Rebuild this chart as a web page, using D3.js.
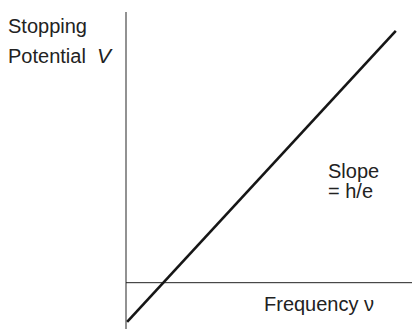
<!DOCTYPE html>
<html>
<head>
<meta charset="utf-8">
<script src="https://cdn.jsdelivr.net/npm/d3@7"></script>
<style>
  html, body { margin: 0; padding: 0; background: #fff; }
  svg { display: block; font-family: "Liberation Sans", Arial, sans-serif; }
</style>
</head>
<body>
<svg id="chart" width="412" height="329"></svg>
<script>
// Stopping potential vs frequency (photoelectric effect)
const freq    = [0.04, 9.5];     // frequency, arbitrary units
const voltage = [-1.35, 8.7];    // stopping potential, arbitrary units
const xDomain = [0, 10];
const yDomain = [-1.6, 9.35];

const W = 412, H = 329;
const svg = d3.select('#chart');

const x = d3.scaleLinear().domain(xDomain).range([126, 410]);
const y = d3.scaleLinear().domain(yDomain).range([329, 12]);

// vertical axis (grey)
svg.append('line')
  .attr('x1', x(0)).attr('x2', x(0))
  .attr('y1', y(yDomain[1])).attr('y2', y(yDomain[0]))
  .attr('stroke', '#6e6e6e')
  .attr('stroke-width', 1.5);

// horizontal axis at V = 0
svg.append('line')
  .attr('x1', x(0)).attr('x2', W)
  .attr('y1', y(0)).attr('y2', y(0))
  .attr('stroke', '#222')
  .attr('stroke-width', 1);

// the line V = (h/e) nu - phi/e
const pts = freq.map((f, i) => [f, voltage[i]]);
svg.append('path')
  .datum(pts)
  .attr('fill', 'none')
  .attr('stroke', '#161616')
  .attr('stroke-width', 2.6)
  .attr('d', d3.line().x(d => x(d[0])).y(d => y(d[1])));

// labels
const txt = (s, tx, ty, opts = {}) => svg.append('text')
  .attr('x', tx).attr('y', ty)
  .attr('font-size', opts.size || 20)
  .attr('font-style', opts.italic ? 'italic' : null)
  .attr('fill', '#222')
  .text(s);

txt('Stopping', 8, 33);
txt('Potential', 8, 63);
txt('V', 97, 63, { italic: true, size: 21 });
txt('Frequency \u03BD', 264, 311);
txt('Slope', 328, 178);
txt('= h/e', 328, 198);
</script>
</body>
</html>
